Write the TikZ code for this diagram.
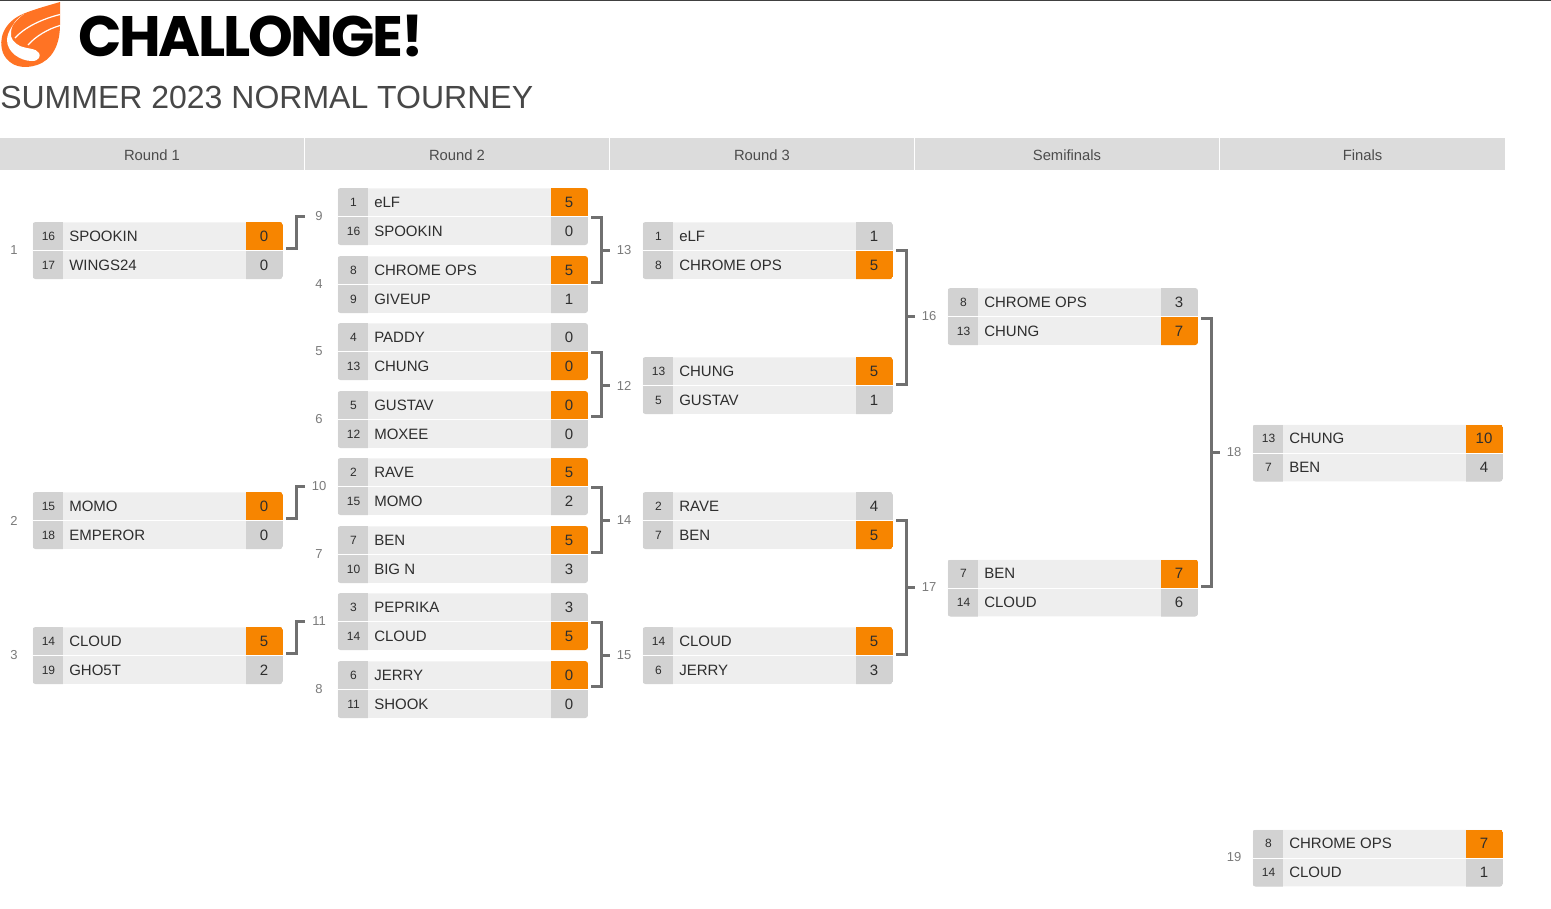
\documentclass[tikz,border=0pt]{standalone}
\usepackage{fontspec}
\setmainfont{Liberation Sans}
\newfontfamily\logofont[LetterSpace=-4]{Poppins}
\usetikzlibrary{calc}
\definecolor{rowbg}{HTML}{EEEEEE}
\definecolor{cellbg}{HTML}{D2D2D2}
\definecolor{winbg}{HTML}{F78500}
\definecolor{headbg}{HTML}{DCDCDC}
\definecolor{conncol}{HTML}{707070}
\definecolor{labcol}{HTML}{7A7A7A}
\definecolor{txtcol}{HTML}{2E2E2E}
\definecolor{logoor}{HTML}{FF7324}
\newcommand\fs[1]{\fontsize{\fpeval{#1*0.75}}{\fpeval{#1*0.9}}\selectfont}
\tikzset{
  matchbox/.style={rectangle,inner sep=0pt,minimum width=250*0.75pt,minimum height=56.5*0.75pt,anchor=north west,fill=rowbg,rounded corners=2.25pt},
  seedtxt/.style={anchor=base,inner sep=0pt,text=txtcol,font=\fs{12}},
  nametxt/.style={anchor=base west,inner sep=0pt,text=txtcol,font=\fs{15}},
  scoretxt/.style={anchor=base,inner sep=0pt,text=txtcol,font=\fs{15}},
  matchlabel/.style={inner sep=0pt,minimum width=28*0.75pt,text=labcol,font=\fs{13}},
  conn/.style={draw=conncol,line width=2.25pt},
  headtxt/.style={inner sep=0pt,text=black!70,font=\fs{14.8}}
}
\newcommand\Mm[9]{\def\mA{#1}\def\mX{#2}\def\mY{#3}\def\mSa{#4}\def\mNa{#5}\def\mCa{#6}\def\mWa{#7}\def\mSb{#8}\def\mNb{#9}\Mcont}
\newcommand\Mcont[2]{%
  \node[matchbox] (\mA) at (\mX,\mY) {};
  \begin{scope}
    \clip[rounded corners=2.25pt] (\mA.north west) rectangle (\mA.south east);
    \fill[cellbg] (\mX,\mY) rectangle ++(30,60);
    \fill[\mWa] (\mX+213.5,\mY) rectangle ++(37,28);
    \fill[#2] (\mX+213.5,\mY+29) rectangle ++(37,30);
    \fill[white] (\mX,\mY+28) rectangle ++(250,1.3);
  \end{scope}
  \node[seedtxt] (\mA s1) at (\mX+16,\mY+18) {\mSa};
  \node[nametxt] (\mA n1) at (\mX+36.5,\mY+19) {\mNa};
  \node[scoretxt] (\mA c1) at (\mX+231.5,\mY+19) {\mCa};
  \node[seedtxt] (\mA s2) at (\mX+16,\mY+47) {\mSb};
  \node[nametxt] (\mA n2) at (\mX+36.5,\mY+48) {\mNb};
  \node[scoretxt] (\mA c2) at (\mX+231.5,\mY+48) {#1};
}
\newcommand\bracket[5]{%
  \draw[conn] ($(#1.east)+(3,#2)$) -- ++(10.5,0) coordinate (q#5) -- ($(#3.east)+(13.5,#4)$) -- ++(-10.5,0);
  \draw[conn] (q#5 |- #5.west) -- (#5.west);
}
\newcommand\single[3]{%
  \draw[conn] ($(#1.east)+(3,#2)$) -- ++(10.5,0) |- (#3.west);
}
\begin{document}
\begin{tikzpicture}[x=0.75pt,y=-0.75pt]
\useasboundingbox (0,0) rectangle (1551,908);
\fill[black!75] (0,0) rectangle (1551,1);
% logo
\fill[logoor] (60,2) -- (60,25) .. controls (60,45) and (52,60) .. (37,65) .. controls (25,69) and (10,68) .. (3,53) .. controls (-2,40) and (3,22) .. (24,13.5) .. controls (35,9) and (50,5) .. (60,2) -- cycle;
\fill[white] (24,14) .. controls (15,20) and (7,32) .. (7,40) .. controls (7,52) and (20,61) .. (32,61) .. controls (39,61) and (41,56) .. (39,53) .. controls (36,48) and (27,49) .. (20,46) .. controls (14,43) and (10,38) .. (11,33) .. controls (11,25) and (17,18) .. (24,14) -- cycle;
\draw[white,line width=0.9pt] (60,14.5) .. controls (42,19) and (25,27) .. (15,38);
\draw[white,line width=0.9pt] (60,25.5) .. controls (48,29) and (36,36) .. (28,45);
\node[anchor=base west,inner sep=0pt,font=\logofont\bfseries\fs{57},text=black] (logotext) at (78,56) {CHALLONGE!};
\node[anchor=base west,inner sep=0pt,font=\fs{32},text=black!72] (title) at (0,108) {SUMMER 2023 NORMAL TOURNEY};
% headers
\foreach \nm/\xa/\xb/\lb in {h1/0/304/Round 1,h2/305/609/Round 2,h3/610/914/Round 3,h4/915/1219/Semifinals,h5/1220/1505/Finals}{
  \fill[headbg] (\xa,138) rectangle (\xb,170);
  \node[headtxt] (\nm) at ({(\xa+\xb)/2},155) {\lb};
}
% matches
\Mm{m1}{32.5}{222}{16}{SPOOKIN}{0}{winbg}{17}{WINGS24}{0}{cellbg}
\Mm{m2}{32.5}{492}{15}{MOMO}{0}{winbg}{18}{EMPEROR}{0}{cellbg}
\Mm{m3}{32.5}{627}{14}{CLOUD}{5}{winbg}{19}{GHO5T}{2}{cellbg}
\Mm{m9}{337.5}{188}{1}{eLF}{5}{winbg}{16}{SPOOKIN}{0}{cellbg}
\Mm{m4}{337.5}{256}{8}{CHROME OPS}{5}{winbg}{9}{GIVEUP}{1}{cellbg}
\Mm{m5}{337.5}{323}{4}{PADDY}{0}{cellbg}{13}{CHUNG}{0}{winbg}
\Mm{m6}{337.5}{391}{5}{GUSTAV}{0}{winbg}{12}{MOXEE}{0}{cellbg}
\Mm{m10}{337.5}{458}{2}{RAVE}{5}{winbg}{15}{MOMO}{2}{cellbg}
\Mm{m7}{337.5}{526}{7}{BEN}{5}{winbg}{10}{BIG N}{3}{cellbg}
\Mm{m11}{337.5}{593}{3}{PEPRIKA}{3}{cellbg}{14}{CLOUD}{5}{winbg}
\Mm{m8}{337.5}{661}{6}{JERRY}{0}{winbg}{11}{SHOOK}{0}{cellbg}
\Mm{m13}{642.5}{222}{1}{eLF}{1}{cellbg}{8}{CHROME OPS}{5}{winbg}
\Mm{m12}{642.5}{357}{13}{CHUNG}{5}{winbg}{5}{GUSTAV}{1}{cellbg}
\Mm{m14}{642.5}{492}{2}{RAVE}{4}{cellbg}{7}{BEN}{5}{winbg}
\Mm{m15}{642.5}{627}{14}{CLOUD}{5}{winbg}{6}{JERRY}{3}{cellbg}
\Mm{m16}{947.5}{288}{8}{CHROME OPS}{3}{cellbg}{13}{CHUNG}{7}{winbg}
\Mm{m17}{947.5}{559.5}{7}{BEN}{7}{winbg}{14}{CLOUD}{6}{cellbg}
\Mm{m18}{1252.5}{424.5}{13}{CHUNG}{10}{winbg}{7}{BEN}{4}{cellbg}
\Mm{m19}{1252.5}{829.5}{8}{CHROME OPS}{7}{winbg}{14}{CLOUD}{1}{cellbg}
% match labels
\foreach \nm/\xx/\yy in {1/14/250.5,2/14/520.5,3/14/655.5,9/319/216.5,4/319/284.5,5/319/351.5,6/319/419.5,10/319/486.5,7/319/554.5,11/319/621.5,8/319/689.5,13/624/250.5,12/624/385.5,14/624/520.5,15/624/655.5,16/929/316.5,17/929/587.5,18/1234/452.5,19/1234/857.5}{
  \node[matchlabel] (l\nm) at (\xx,\yy) {\nm};
}
% connectors
\single{m1}{-2}{l9}
\single{m2}{-2}{l10}
\single{m3}{-2}{l11}
\bracket{m9}{0.5}{m4}{-2}{l13}
\bracket{m5}{0.5}{m6}{-3}{l12}
\bracket{m10}{0.5}{m7}{-2}{l14}
\bracket{m11}{0.5}{m8}{-3}{l15}
\bracket{m13}{0}{m12}{-1.5}{l16}
\bracket{m14}{0}{m15}{-1.5}{l17}
\bracket{m16}{1.5}{m17}{-1.5}{l18}
\end{tikzpicture}
\end{document}
